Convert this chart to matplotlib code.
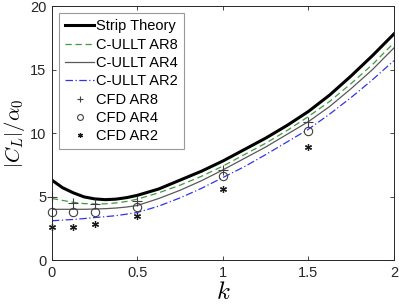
import numpy as np
import matplotlib
matplotlib.use("Agg")
import matplotlib.pyplot as plt

plt.rcParams["font.family"] = ["Liberation Sans", "DejaVu Sans"]
plt.rcParams["mathtext.fontset"] = "cm"

# === Curves ===
k_curve = [0, 0.0625, 0.125, 0.1875, 0.25, 0.3125, 0.375, 0.4375, 0.5,
           0.625, 0.75, 0.875, 1.0, 1.125, 1.25, 1.375, 1.5,
           1.625, 1.75, 1.875, 2.0]
strip = [6.3, 5.7, 5.3, 4.98, 4.82, 4.76, 4.8, 4.92, 5.1,
         5.6, 6.3, 7.0, 7.8, 8.7, 9.6, 10.6, 11.7,
         13.0, 14.5, 16.1, 17.8]
ullt_ar8 = [4.85, 4.7, 4.55, 4.45, 4.42, 4.43, 4.5, 4.62, 4.8,
            5.3, 5.9, 6.6, 7.4, 8.3, 9.2, 10.2, 11.3,
            12.5, 13.9, 15.4, 17.1]
ullt_ar4 = [4.0, 4.0, 4.0, 4.0, 4.02, 4.05, 4.1, 4.18, 4.3,
            4.85, 5.5, 6.25, 7.1, 8.0, 8.9, 9.9, 10.9,
            12.1, 13.5, 15.0, 16.7]
ullt_ar2 = [3.1, 3.15, 3.2, 3.27, 3.35, 3.42, 3.5, 3.62, 3.75,
            4.25, 4.9, 5.65, 6.5, 7.35, 8.3, 9.3, 10.3,
            11.5, 12.8, 14.2, 15.7]

# === CFD points ===
k_cfd = [0, 0.125, 0.25, 0.5, 1.0, 1.5]
cfd_ar8 = [5.0, 4.5, 4.4, 4.65, 7.1, 10.9]
cfd_ar4 = [3.8, 3.75, 3.75, 4.2, 6.6, 10.2]
cfd_ar2 = [2.6, 2.6, 2.85, 3.5, 5.6, 8.9]

fig = plt.figure(figsize=(3.99, 3.06), dpi=100)
ax = fig.add_axes([0.130, 0.150, 0.857, 0.830])

ax.plot(k_curve, strip, color="black", lw=2.2, label="Strip Theory")
ax.plot(k_curve, ullt_ar8, color=(0.25, 0.6, 0.25), lw=0.9, ls=(0, (5, 3)),
        label="C-ULLT AR8")
ax.plot(k_curve, ullt_ar4, color="0.35", lw=0.9, label="C-ULLT AR4")
ax.plot(k_curve, ullt_ar2, color=(0.2, 0.2, 0.9), lw=0.9, ls=(0, (6, 2, 1, 2)),
        label="C-ULLT AR2")

ax.plot(k_cfd, cfd_ar8, ls="none", marker="+", ms=7, mew=0.8, color="0.25",
        label="CFD AR8", clip_on=False)
ax.plot(k_cfd, cfd_ar4, ls="none", marker="o", ms=6, mew=0.8, mfc="none",
        mec="0.25", label="CFD AR4", clip_on=False)
ax.plot(k_cfd, cfd_ar2, ls="none", marker=(6, 2, 0), ms=5, mew=0.9, color="0.1",
        label="CFD AR2", clip_on=False)

ax.set_xlim(0, 2)
ax.set_ylim(0, 20)
ax.set_xticks([0, 0.5, 1, 1.5, 2])
ax.set_xticklabels(["0", "0.5", "1", "1.5", "2"])
ax.set_yticks([0, 5, 10, 15, 20])
ax.tick_params(direction="in", top=True, right=True, length=3, width=0.6,
               labelsize=10.5, colors="0.15", pad=4)
for s in ax.spines.values():
    s.set_linewidth(0.7)
    s.set_color("0.15")

ax.set_xlabel(r"$k$", fontsize=18, labelpad=0)
ax.set_ylabel(r"$\left|C_L\right|/\alpha_0$", fontsize=15, labelpad=2)

leg = ax.legend(loc="upper left", fontsize=10.5, frameon=True, fancybox=False,
                handlelength=2.0, handletextpad=0.15, labelspacing=0.3,
                borderpad=0.4, borderaxespad=0.5, markerscale=0.7)
leg.get_frame().set_edgecolor("0.5")
leg.get_frame().set_linewidth(0.8)

fig.savefig("out.png", dpi=100)
